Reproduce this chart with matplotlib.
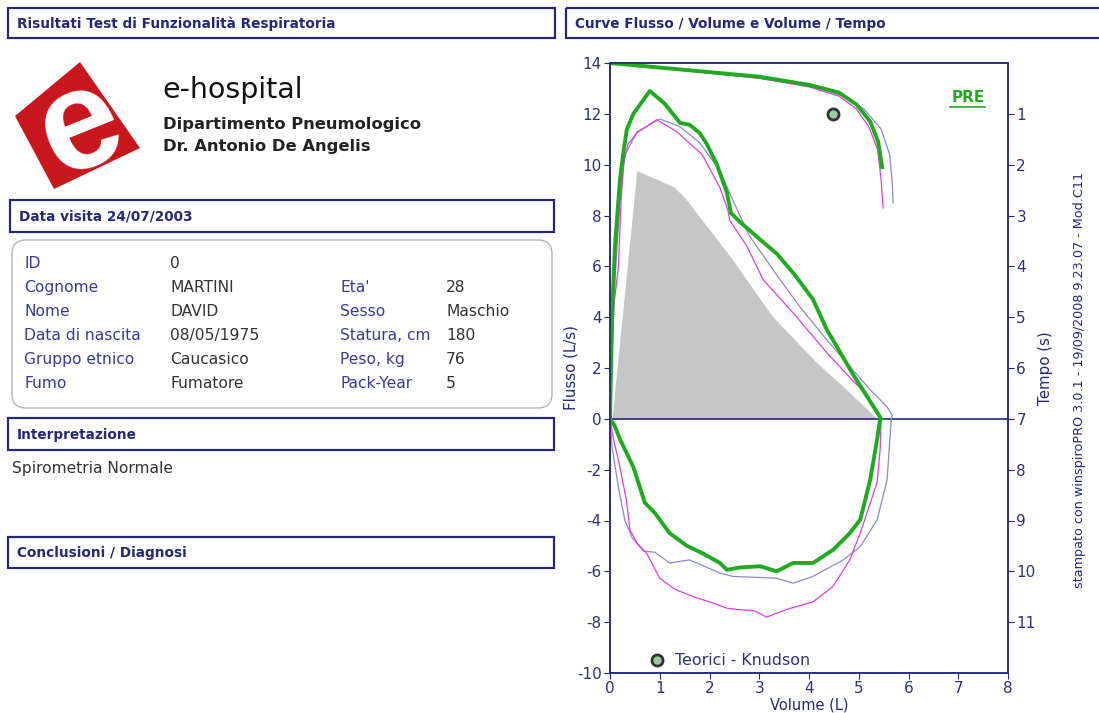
import matplotlib.pyplot as plt
from matplotlib.patches import Rectangle, FancyBboxPatch, Polygon

plt.rcParams['font.family'] = ['DejaVu Sans']
plt.rcParams['axes.unicode_minus'] = False

# teorico (area grigia) - Volume (L) / Flusso (L/s)
pred_vol = [0.05, 0.55, 1.3, 1.55, 1.8, 2.47, 2.75, 3.28, 4.16, 4.76, 5.37]
pred_flow = [0, 9.75, 9.1, 8.6, 7.95, 6.26, 5.47, 4.0, 2.2, 1.14, 0]

# PRE - prova migliore (verde)
pre_exp_vol = [0, 0.02, 0.05, 0.1, 0.2, 0.27, 0.34, 0.47, 0.8, 1.1, 1.41, 1.6, 1.8, 1.95,
               2.15, 2.35, 2.43, 2.61, 3.02, 3.35, 3.7, 4.08, 4.36, 4.56, 4.9, 5.3, 5.45]
pre_exp_flow = [0, 2.0, 4.5, 6.8, 9.4, 10.5, 11.4, 12.0, 12.9, 12.4, 11.64, 11.57, 11.25, 10.8,
                10.0, 8.9, 8.1, 7.75, 7.05, 6.5, 5.7, 4.7, 3.5, 2.84, 1.7, 0.47, 0]
pre_insp_vol = [0, 0.1, 0.2, 0.47, 0.7, 0.9, 1.2, 1.55, 1.87, 2.21, 2.35, 2.6, 3.02, 3.35,
                3.68, 4.08, 4.48, 4.82, 5.03, 5.23, 5.37, 5.43]
pre_insp_flow = [0, -0.3, -0.8, -1.9, -3.3, -3.7, -4.5, -5.0, -5.3, -5.67, -5.94, -5.85, -5.8,
                 -6.0, -5.67, -5.67, -5.16, -4.5, -3.97, -2.4, -0.8, 0]

# altre prove (magenta, blu)
mag_exp_vol = [0, 0.03, 0.08, 0.17, 0.22, 0.27, 0.36, 0.54, 0.94, 1.34, 1.85, 2.21, 2.37, 2.41,
               2.75, 3.08, 3.68, 4.36, 4.88, 5.17, 5.43]
mag_exp_flow = [0, 2.0, 4.5, 6.0, 8.5, 10.0, 10.8, 11.25, 11.77, 11.3, 10.4, 9.1, 8.2, 7.8,
                6.8, 5.47, 4.17, 2.6, 1.5, 0.95, 0.1]
mag_insp_vol = [0, 0.07, 0.2, 0.33, 0.4, 0.55, 0.74, 1.0, 1.3, 1.67, 2.0, 2.35, 2.55, 2.9,
                3.15, 3.55, 4.08, 4.48, 4.82, 5.03, 5.2, 5.37, 5.43, 5.45]
mag_insp_flow = [0, -0.8, -1.9, -3.2, -4.37, -4.9, -5.3, -6.27, -6.7, -7.0, -7.2, -7.45, -7.5,
                 -7.55, -7.8, -7.5, -7.2, -6.6, -5.55, -4.5, -3.5, -2.5, -1.2, 0]

blue_exp_vol = [0, 0.03, 0.1, 0.2, 0.3, 0.55, 1.0, 1.4, 1.8, 2.2, 2.47, 2.8, 3.42, 3.82, 4.36,
                4.88, 5.23, 5.37, 5.57, 5.67, 5.65]
blue_exp_flow = [0, 2.5, 5.5, 8.5, 10.4, 11.3, 11.8, 11.5, 10.87, 9.8, 8.6, 7.2, 5.47, 4.4, 3.1,
                 1.93, 1.14, 0.87, 0.47, 0.15, -0.1]
blue_insp_vol = [0, 0.04, 0.17, 0.3, 0.45, 0.67, 0.9, 1.2, 1.6, 2.2, 2.47, 3.35, 3.68, 4.08,
                 4.69, 5.03, 5.37, 5.57, 5.65]
blue_insp_flow = [0, -1.1, -2.7, -4.0, -4.7, -5.2, -5.25, -5.67, -5.55, -6.06, -6.2, -6.27,
                  -6.47, -6.2, -5.55, -5.03, -3.97, -2.4, -0.1]

# curve Volume / Tempo (s)
pre_vt_vol = [0, 1, 2, 3, 4, 4.6, 4.96, 5.23, 5.39, 5.47]
pre_vt_t = [0, 0.09, 0.18, 0.27, 0.43, 0.58, 0.82, 1.15, 1.55, 2.05]
mag_vt_vol = [0, 1, 2, 3, 4, 4.6, 4.95, 5.2, 5.38, 5.45, 5.49]
mag_vt_t = [0, 0.08, 0.19, 0.3, 0.47, 0.65, 0.9, 1.25, 1.7, 2.3, 2.85]
blue_vt_vol = [0, 1, 2, 3, 4, 4.7, 5.1, 5.45, 5.62, 5.67, 5.69]
blue_vt_t = [0, 0.1, 0.2, 0.3, 0.45, 0.65, 0.9, 1.3, 1.8, 2.3, 2.75]

# FEV1 teorico (Knudson)
teo_vol = 4.48
teo_t = 1.0

info_left = [('ID', '0'), ('Cognome', 'MARTINI'), ('Nome', 'DAVID'),
             ('Data di nascita', '08/05/1975'), ('Gruppo etnico', 'Caucasico'),
             ('Fumo', 'Fumatore')]
info_right = [('Eta\'', '28'), ('Sesso', 'Maschio'), ('Statura, cm', '180'),
              ('Peso, kg', '76'), ('Pack-Year', '5')]

NAVY = '#26267c'
LBL = '#3a3a9c'
TXT = '#333333'
GREEN = '#1faa1f'
MAGENTA = '#e03ce0'
BLUE = '#8a8ac8'

fig = plt.figure(figsize=(10.99, 7.13), dpi=100)

# sfondo in pixel
bg = fig.add_axes([0, 0, 1, 1])
bg.set_xlim(0, 1099)
bg.set_ylim(713, 0)
bg.axis('off')


def header(x0, x1, y0, y1, text):
    bg.add_patch(Rectangle((x0, y0), x1 - x0, y1 - y0, fill=False, ec=NAVY, lw=1.6))
    bg.text(x0 + 9, (y0 + y1) / 2 + 1, text, color=NAVY, fontsize=9.8,
            fontweight='bold', va='center')


header(8, 555, 8, 38, 'Risultati Test di Funzionalità Respiratoria')
header(566, 1110, 8, 38, 'Curve Flusso / Volume e Volume / Tempo')
header(10, 554, 200, 232, 'Data visita 24/07/2003')
header(8, 554, 418, 450, 'Interpretazione')
header(8, 554, 537, 568, 'Conclusioni / Diagnosi')

# logo
bg.add_patch(Polygon([(80, 62), (140, 148), (54, 189), (15, 116)], closed=True,
                     fc='#c8181e', ec='none'))
bg.text(81, 129, 'e', color='white', fontsize=102, fontweight='bold',
        family='Liberation Sans', rotation=22, ha='center', va='center',
        rotation_mode='anchor')

bg.text(162, 90, 'e-hospital', fontsize=20.5, color='#111111', va='center')
bg.text(163, 124, 'Dipartimento Pneumologico', fontsize=11.8, fontweight='bold',
        color='#222222', va='center')
bg.text(163, 147, 'Dr. Antonio De Angelis', fontsize=11.8, fontweight='bold',
        color='#222222', va='center')

# dati anagrafici
bg.add_patch(FancyBboxPatch((12, 240), 540, 168,
                            boxstyle='round,pad=0,rounding_size=14',
                            fc='white', ec='#b5b5b5', lw=1))
for i, (k, v) in enumerate(info_left):
    y = 263 + 24.2 * i
    bg.text(24, y, k, fontsize=11.2, color=LBL, va='center')
    bg.text(170, y, v, fontsize=11.2, color=TXT, va='center')
for i, (k, v) in enumerate(info_right):
    y = 287 + 24.2 * i
    bg.text(340, y, k, fontsize=11.2, color=LBL, va='center')
    bg.text(446, y, v, fontsize=11.2, color=TXT, va='center')

bg.text(12, 468, 'Spirometria Normale', fontsize=11.2, color=TXT, va='center')

bg.text(1079, 380, 'stampato con winspiroPRO 3.0.1 - 19/09/2008 9.23.07 - Mod.C11',
        rotation=90, fontsize=9.2, color=NAVY, ha='center', va='center')

# grafico Flusso / Volume
ax = fig.add_axes([610 / 1099, 1 - 673 / 713, 398 / 1099, 610 / 713])
ax.fill(pred_vol, pred_flow, color='#c6c6c6', lw=0, zorder=1)
ax.axhline(0, color=NAVY, lw=1.2, zorder=2)
ax.plot(blue_exp_vol, blue_exp_flow, color=BLUE, lw=0.9, zorder=3)
ax.plot(blue_insp_vol, blue_insp_flow, color=BLUE, lw=0.9, zorder=3)
ax.plot(mag_exp_vol, mag_exp_flow, color=MAGENTA, lw=0.9, zorder=3)
ax.plot(mag_insp_vol, mag_insp_flow, color=MAGENTA, lw=0.9, zorder=3)
ax.plot(pre_exp_vol, pre_exp_flow, color=GREEN, lw=2.8, zorder=4)
ax.plot(pre_insp_vol, pre_insp_flow, color=GREEN, lw=2.8, zorder=4)

ax.set_xlim(0, 8)
ax.set_ylim(-10, 14)
ax.set_xticks(range(0, 9))
ax.set_yticks(range(-10, 15, 2))
ax.set_xlabel('Volume (L)', fontsize=10.5, color=NAVY, labelpad=1)
ax.set_ylabel('Flusso (L/s)', fontsize=10.8, color=NAVY, labelpad=-1)
ax.tick_params(direction='out', length=4, color=NAVY, labelcolor='#30307a',
               labelsize=11, pad=2)
for s in ax.spines.values():
    s.set_color(NAVY)
    s.set_linewidth(1.1)

ax.plot([0.94], [-9.49], 'o', ms=8, mfc='#a0c8a0', mec='#333333', mew=2, zorder=5)
ax.text(1.3, -9.49, 'Teorici - Knudson', fontsize=11.4, color='#30307a', va='center')
ax.text(0.942, 0.944, 'PRE', transform=ax.transAxes, fontsize=11, fontweight='bold',
        color=GREEN, ha='right', va='center')
ax.plot([0.854, 0.942], [0.928, 0.928], transform=ax.transAxes, color=GREEN, lw=1.2)

# asse Tempo (s)
ax2 = ax.twinx()
ax2.set_ylim(12, 0)
ax2.set_yticks(range(1, 12))
ax2.set_ylabel('Tempo (s)', fontsize=10.8, color=NAVY, labelpad=2)
ax2.tick_params(direction='out', length=4, color=NAVY, labelcolor='#30307a',
                labelsize=11, pad=2)
for s in ax2.spines.values():
    s.set_color(NAVY)
    s.set_linewidth(1.1)

ax2.plot(blue_vt_vol, blue_vt_t, color=BLUE, lw=0.9)
ax2.plot(mag_vt_vol, mag_vt_t, color=MAGENTA, lw=0.9)
ax2.plot(pre_vt_vol, pre_vt_t, color=GREEN, lw=2.8)
ax2.plot([teo_vol], [teo_t], 'o', ms=8, mfc='#a0c8a0', mec='#333333', mew=2, zorder=5)

fig.savefig('out.png', dpi=100)
